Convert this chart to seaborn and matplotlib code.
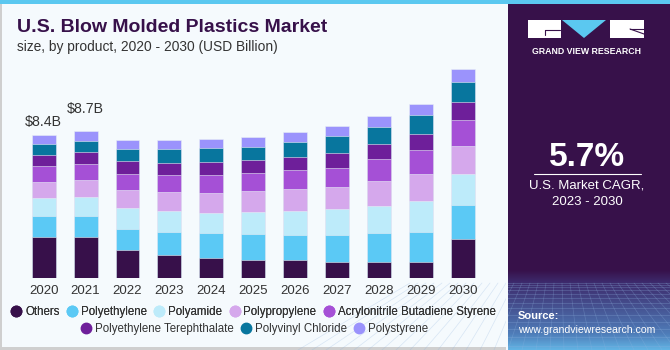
import numpy as np
import pandas as pd
import matplotlib
matplotlib.use("Agg")
import matplotlib.pyplot as plt
import seaborn as sns
from matplotlib.patches import Rectangle, Polygon
from matplotlib.lines import Line2D
from matplotlib.colors import to_rgb

# ---------------- data ----------------
years = ["2020", "2021", "2022", "2023", "2024", "2025", "2026", "2027", "2028", "2029", "2030"]
others        = [2.38, 2.38, 1.64, 1.33, 1.17, 1.07, 1.05, 0.96, 0.96, 0.96, 2.30]
polyethylene  = [1.23, 1.23, 1.25, 1.39, 1.45, 1.52, 1.47, 1.56, 1.66, 1.76, 1.95]
polyamide     = [1.05, 1.13, 1.23, 1.19, 1.21, 1.29, 1.39, 1.50, 1.62, 1.82, 1.84]
polypropylene = [0.94, 0.98, 1.02, 1.11, 1.17, 1.23, 1.29, 1.29, 1.43, 1.54, 1.66]
abs_resin     = [0.98, 0.98, 0.96, 1.04, 1.05, 1.05, 1.13, 1.11, 1.31, 1.41, 1.52]
pet           = [0.64, 0.68, 0.74, 0.70, 0.74, 0.74, 0.78, 0.92, 0.86, 0.94, 1.02]
pvc           = [0.61, 0.66, 0.72, 0.78, 0.80, 0.80, 0.84, 0.96, 1.02, 1.09, 1.19]
polystyrene   = [0.57, 0.55, 0.55, 0.53, 0.55, 0.55, 0.61, 0.61, 0.64, 0.70, 0.74]

series_names = ["Others", "Polyethylene", "Polyamide", "Polypropylene",
                "Acrylonitrile Butadiene Styrene", "Polyethylene Terephthalate",
                "Polyvinyl Chloride", "Polystyrene"]
series_values = [others, polyethylene, polyamide, polypropylene, abs_resin, pet, pvc, polystyrene]
colors = ["#37104A", "#5BC9F5", "#BDEBFA", "#D5A8EC", "#A550D6", "#6E1F9A", "#08769E", "#9B93FC"]

value_labels = {"2020": "$8.4B", "2021": "$8.7B"}

# ---------------- style ----------------
sns.set_theme(style="white")
plt.rcParams['font.family'] = ['Liberation Sans', 'DejaVu Sans']

W, H = 670, 350
fig = plt.figure(figsize=(6.7, 3.5), dpi=100)

# background canvas in pixel coordinates
bg = fig.add_axes([0, 0, 1, 1], zorder=0)
bg.set_xlim(0, W)
bg.set_ylim(H, 0)
bg.axis('off')
bg.add_patch(Rectangle((0, 0), W, H, color='#F5FAFD', lw=0))
# borders of left panel
bg.add_patch(Rectangle((0, 0), 1.5, H, color='#CFCFCF', lw=0))
bg.add_patch(Rectangle((0, 347), 506, 3, color='#CFCFCF', lw=0))
# right panel
PX = 506
bg.add_patch(Rectangle((PX, 0), W - PX, H, color='#37114A', lw=0))
# gradient bottom of panel
n = 200
t = np.linspace(0, 1, n)[:, None]
c0 = np.array(to_rgb('#37114A'))
c1 = np.array(to_rgb('#3D2A6C'))
c2 = np.array(to_rgb('#4F7DB9'))
c3 = np.array(to_rgb('#62B4E4'))
img = np.zeros((n, 1, 3))
for i in range(n):
    tt = t[i, 0]
    if tt < 0.15:
        c = c0 + (c1 - c0) * (tt / 0.15)
    elif tt < 0.8:
        c = c1 + (c2 - c1) * ((tt - 0.15) / 0.65)
    else:
        c = c2 + (c3 - c2) * ((tt - 0.8) / 0.2)
    img[i, 0] = c
bg.imshow(img, extent=(PX, W, 350, 270), aspect='auto', zorder=1, interpolation='bilinear')
# faint grid texture
for k in range(14):
    yy = 283 + k * (k + 4) * 0.33
    if yy < 350:
        bg.plot([PX, W], [yy, yy], color='#8FB4E0', lw=0.5, alpha=0.35, zorder=2)
for k in range(-12, 22):
    x_top = PX + k * 8
    x_bot = PX + k * 14 - 40
    bg.plot([x_top, x_bot], [283, 350], color='#8FB4E0', lw=0.5, alpha=0.3, zorder=2)
bg.add_patch(Rectangle((PX, 0), 2, H, color='#F5FAFD', lw=0, zorder=3))
# top stripe
bg.add_patch(Rectangle((0, 0), W, 4, color='#5BC8F0', lw=0, zorder=3))

# logo
bg.add_patch(Rectangle((528, 20), 33, 18, color='white', lw=0, zorder=4))
bg.plot([545, 560], [30, 30], color='#37114A', lw=0.8, zorder=5)
bg.plot([545, 545], [30, 35], color='#37114A', lw=0.8, zorder=5)
bg.add_patch(Polygon([(562, 20), (606, 20), (584, 38)], closed=True, color='#5BC8F0', lw=0, zorder=4))
bg.add_patch(Rectangle((610, 20), 34, 18, color='white', lw=0, zorder=4))
bg.plot([630, 644], [29, 34], color='#37114A', lw=0.8, zorder=5)
bg.plot([630, 644], [29, 29], color='#37114A', lw=0.8, zorder=5)
bg.text(586, 51, "GRAND VIEW RESEARCH", color='white', fontsize=6.3, fontweight='bold',
        ha='center', va='center', zorder=5)

# CAGR
bg.text(587, 157, "5.7%", color='white', fontsize=24, fontweight='bold', ha='center', va='center', zorder=5)
bg.plot([534, 641], [173.5, 173.5], color='white', lw=0.8, zorder=5)
bg.text(587, 186, "U.S. Market CAGR,", color='white', fontsize=9.5, ha='center', va='center', zorder=5)
bg.text(587, 202, "2023 - 2030", color='white', fontsize=9.5, ha='center', va='center', zorder=5)

# Source
bg.text(518, 316, "Source:", color='white', fontsize=8, fontweight='bold', ha='left', va='center', zorder=5)
bg.text(518, 330, "www.grandviewresearch.com", color='white', fontsize=7.6, ha='left', va='center', zorder=5)

# titles
bg.text(17, 28, "U.S. Blow Molded Plastics Market", color='#37114A', fontsize=14,
        fontweight='bold', ha='left', va='center', zorder=5)
bg.text(17, 47, "size, by product, 2020 - 2030 (USD Billion)", color='#333333', fontsize=9.9,
        ha='left', va='center', zorder=5)

# ---------------- bar chart ----------------
slot = 41.9
ax_left = 43.7 - 0.5 * slot
ax_w = 11 * slot
base_y = 278
top_y = 60
px_per_unit = 17.07
ax = fig.add_axes([ax_left / W, (H - base_y) / H, ax_w / W, (base_y - top_y) / H], zorder=2)
ax.patch.set_alpha(0)

cum = np.zeros(len(years))
cums = []
for vals in series_values:
    cum = cum + np.array(vals)
    cums.append(cum.copy())

for i in reversed(range(len(series_values))):
    d = pd.DataFrame({"year": years, "value": cums[i]})
    sns.barplot(data=d, x="year", y="value", order=years, color=colors[i], width=0.57,
                saturation=1, errorbar=None, ax=ax, edgecolor='#E8EEF5', linewidth=0.4)

totals = cums[-1]
for j, yr in enumerate(years):
    if yr in value_labels:
        off = 6 if yr == "2020" else 15
        ax.annotate(value_labels[yr], (j, totals[j]), xytext=(0, off), textcoords='offset pixels',
                    ha='center', va='bottom', fontsize=10.2, color='#333333')

ax.set_xlim(-0.5, 10.5)
ax.set_ylim(0, (base_y - top_y) / px_per_unit)
ax.set_xlabel("")
ax.set_ylabel("")
ax.set_yticks([])
for s in ax.spines.values():
    s.set_visible(False)
ax.tick_params(axis='x', length=0, pad=5, labelsize=9.5, labelcolor='#333333')

# ---------------- legends ----------------
def handles(idx):
    return [Line2D([0], [0], marker='o', linestyle='', markersize=7.5,
                   markerfacecolor=colors[i], markeredgecolor=colors[i]) for i in idx]

row1 = [0, 1, 2, 3, 4]
row2 = [5, 6, 7]
common = dict(loc='center', frameon=False, fontsize=8.3, handletextpad=0.4,
              columnspacing=0.75, handlelength=0.7, borderpad=0)
leg1 = fig.legend(handles(row1), [series_names[i] for i in row1],
                  bbox_to_anchor=(254 / W, 1 - 312 / H), ncol=5, **common)
for t_ in leg1.get_texts():
    t_.set_color('#333333')
leg2 = fig.legend(handles(row2), [series_names[i] for i in row2],
                  bbox_to_anchor=(255 / W, 1 - 329 / H), ncol=3, **common)
for t_ in leg2.get_texts():
    t_.set_color('#333333')
fig.add_artist(leg1)

fig.savefig("out.png", dpi=100)
